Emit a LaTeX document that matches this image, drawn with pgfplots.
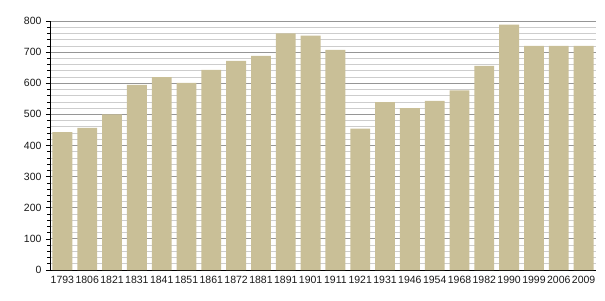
\documentclass[border=0pt]{standalone}
\usepackage{pgfplots}
\pgfplotsset{compat=1.18}
\usepackage{fontspec}
\setmainfont{Liberation Sans}
\definecolor{barc}{RGB}{201,191,151}
\definecolor{majg}{RGB}{150,150,150}
\definecolor{ming}{RGB}{205,205,205}
\begin{document}
\begin{tikzpicture}
\begin{axis}[name=ax,
  scale only axis, width=546pt, height=249pt,
  xmin=-0.5, xmax=21.5, ymin=0, ymax=800,
  axis x line*=bottom, axis y line*=left,
  axis line style={black, line width=0.8pt},
  xtick={0,...,21},
  xticklabels={1793,1806,1821,1831,1841,1851,1861,1872,1881,1891,1901,1911,1921,1931,1946,1954,1968,1982,1990,1999,2006,2009},
  x tick style={draw=none},
  ytick={0,100,...,800},
  minor y tick num=4,
  y tick style={black, line width=0.6pt},
  tick align=outside,
  major tick length=4pt, minor tick length=2.5pt,
  ymajorgrids, yminorgrids,
  major grid style={majg, line width=0.8pt},
  minor grid style={ming, line width=0.7pt},
  tick label style={font=\fontsize{10.5}{12}\selectfont, text=black!90},
  xticklabel style={yshift=1pt},
  yticklabel style={xshift=-1pt},
  /pgf/number format/assume math mode=true,
  clip=false,
]
\addplot[ybar, bar width=0.8, fill=barc, draw=none] coordinates {
(0,443) (1,457) (2,500) (3,595) (4,620) (5,601) (6,643) (7,672) (8,688) (9,760) (10,753)
(11,707) (12,454) (13,539) (14,520) (15,543) (16,577) (17,656) (18,788) (19,720) (20,720) (21,720)
};
\end{axis}
\path ([xshift=-50pt,yshift=-30pt]ax.south west) rectangle ([xshift=9pt,yshift=21pt]ax.north east);
\end{tikzpicture}
\end{document}
